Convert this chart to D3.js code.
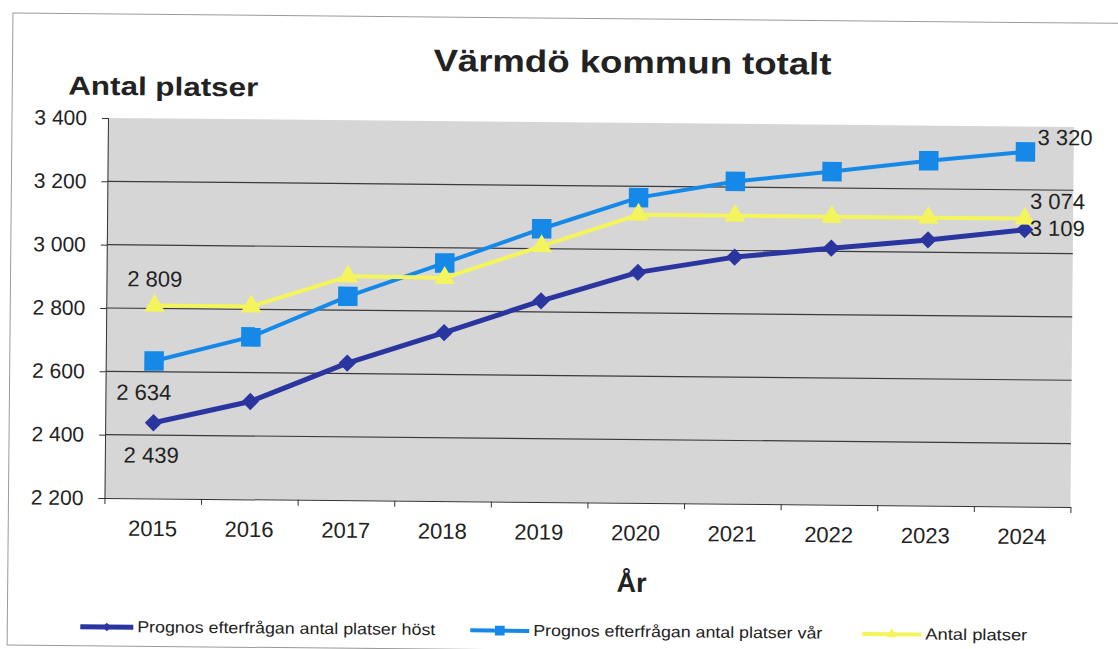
<!DOCTYPE html>
<html>
<head>
<meta charset="utf-8">
<script src="https://cdn.jsdelivr.net/npm/d3@7"></script>
<style>
  html, body { margin: 0; padding: 0; background: #fff; }
  svg { display: block; font-family: "Liberation Sans", Arial, sans-serif; }
</style>
</head>
<body>
<div id="chart"></div>
<script>
const years = [2015, 2016, 2017, 2018, 2019, 2020, 2021, 2022, 2023, 2024]
const host = [2439, 2509, 2633, 2732, 2835, 2928, 2979, 3010, 3039, 3074]
const var_ = [2634, 2713, 2844, 2952, 3063, 3164, 3218, 3252, 3289, 3320]
const antal = [2809, 2809, 2907, 2905, 3008, 3110, 3110, 3109, 3109, 3109]
const yTicks = [2200, 2400, 2600, 2800, 3000, 3200, 3400]

const seriesNames = [
  'Prognos efterfrågan antal platser höst',
  'Prognos efterfrågan antal platser vår',
  'Antal platser'
]

// which points carry a data label
const labelled = [
  { s: 2, i: 0 }, { s: 1, i: 0 }, { s: 0, i: 0 },
  { s: 1, i: 9 }, { s: 0, i: 9 }, { s: 2, i: 9 }
]

const width = 1118
const height = 649
const fmt = v => d3.format(',')(v).replace(/,/g, ' ')

const svg = d3.select('#chart').append('svg')
  .attr('width', width)
  .attr('height', height)

// the original is a slightly skewed scan
const root = svg.append('g').attr('transform', 'rotate(0.53, 109, 118)')

root.append('rect')
  .attr('x', 12).attr('y', 14)
  .attr('width', 1130).attr('height', 632)
  .attr('fill', 'none')
  .attr('stroke', '#9a9a9a')

const plot = { left: 108, right: 1074, top: 118, bottom: 498 }

const x = d3.scaleBand().domain(years).range([plot.left, plot.right])
const y = d3.scaleLinear().domain([2200, 3400]).range([plot.bottom, plot.top])
const cx = d => x(d) + x.bandwidth() / 2

root.append('rect')
  .attr('x', plot.left).attr('y', plot.top)
  .attr('width', plot.right - plot.left).attr('height', plot.bottom - plot.top)
  .attr('fill', '#d6d6d6')

root.append('g')
  .selectAll('line')
  .data(yTicks.filter(t => t > 2200 && t < 3400))
  .join('line')
  .attr('x1', plot.left).attr('x2', plot.right)
  .attr('y1', d => y(d)).attr('y2', d => y(d))
  .attr('stroke', '#3a3a3a')
  .attr('stroke-width', 1.2)

const yAxis = root.append('g')
  .attr('transform', `translate(${plot.left},0)`)
  .call(d3.axisLeft(y).tickValues(yTicks).tickFormat(fmt).tickSize(6).tickPadding(15))
yAxis.selectAll('text').attr('font-size', 21).attr('fill', '#222').attr('font-family', '"Liberation Sans", Arial, sans-serif')
yAxis.selectAll('path, line').attr('stroke', '#333')

// x axis: labels under the categories, ticks between them
const xAxis = root.append('g')
  .attr('transform', `translate(0,${plot.bottom})`)
  .call(d3.axisBottom(x).tickSize(0).tickPadding(22))
xAxis.selectAll('text').attr('font-size', 22).attr('fill', '#222').attr('font-family', '"Liberation Sans", Arial, sans-serif')
xAxis.select('.domain').attr('stroke', '#333')

const bounds = d3.scaleLinear().domain([0, years.length]).range([plot.left, plot.right])
root.append('g')
  .attr('transform', `translate(0,${plot.bottom})`)
  .call(d3.axisBottom(bounds).ticks(years.length).tickSize(6).tickFormat(''))
  .call(g => g.select('.domain').remove())
  .selectAll('line').attr('stroke', '#333')

const series = [
  { values: host, color: '#2a35a0', width: 5, symbol: 'diamond' },
  { values: var_, color: '#1689e8', width: 4, symbol: 'square' },
  { values: antal, color: '#f4f45c', width: 4, symbol: 'triangle' }
]

const line = d3.line().x((d, i) => cx(years[i])).y(d => y(d))

function marker(sel, s, scale = 1) {
  if (s.symbol === 'square') {
    sel.append('path').attr('d', d3.symbol(d3.symbolSquare, 380 * scale * scale)())
  } else if (s.symbol === 'diamond') {
    sel.append('path').attr('d', d3.symbol(d3.symbolSquare, 150 * scale * scale)()).attr('transform', 'rotate(45)')
  } else {
    sel.append('path').attr('d', d3.symbol(d3.symbolTriangle, 185 * scale * scale)())
  }
  sel.selectAll('path').attr('fill', s.color)
}

series.forEach(s => {
  root.append('path')
    .datum(s.values)
    .attr('d', line)
    .attr('fill', 'none')
    .attr('stroke', s.color)
    .attr('stroke-width', s.width)
    .attr('stroke-linejoin', 'round')

  root.append('g')
    .selectAll('g')
    .data(s.values)
    .join('g')
    .attr('transform', (d, i) => `translate(${cx(years[i])},${y(d)})`)
    .each(function() { marker(d3.select(this), s) })
})

// data label placement, as in the original
const labelPos = {
  '2-0': { dx: 0, dy: -19, anchor: 'middle' },
  '1-0': { dx: -10, dy: 39, anchor: 'middle' },
  '0-0': { dx: -2, dy: 40, anchor: 'middle' },
  '1-9': { dx: 12, dy: -7, anchor: 'start' },
  '0-9': { dx: 5, dy: -21, anchor: 'start' },
  '2-9': { dx: 5, dy: 17, anchor: 'start' }
}

root.append('g')
  .selectAll('text')
  .data(labelled)
  .join('text')
  .each(function(d) {
    const p = labelPos[`${d.s}-${d.i}`]
    const v = series[d.s].values[d.i]
    d3.select(this)
      .attr('x', cx(years[d.i]) + p.dx)
      .attr('y', y(v) + p.dy)
      .attr('text-anchor', p.anchor)
      .text(fmt(v))
  })
  .attr('font-size', 22)
  .attr('fill', '#222')

root.append('text')
  .attr('x', 632).attr('y', 68)
  .attr('text-anchor', 'middle')
  .attr('font-size', 31).attr('font-weight', 'bold')
  .attr('textLength', 398).attr('lengthAdjust', 'spacingAndGlyphs')
  .attr('fill', '#222')
  .text('Värmdö kommun totalt')

root.append('text')
  .attr('x', 68).attr('y', 95)
  .attr('font-size', 26).attr('font-weight', 'bold')
  .attr('textLength', 190).attr('lengthAdjust', 'spacingAndGlyphs')
  .attr('fill', '#222')
  .text('Antal platser')

root.append('text')
  .attr('x', 636).attr('y', 587)
  .attr('text-anchor', 'middle')
  .attr('font-size', 27).attr('font-weight', 'bold')
  .attr('fill', '#222')
  .text('År')

// legend
const legendItems = [
  { lx: 85, tx: 142, tw: 298 },
  { lx: 475, tx: 538, tw: 289 },
  { lx: 867, tx: 930, tw: 102 }
]
const legend = root.append('g')
  .selectAll('g')
  .data(legendItems)
  .join('g')
  .attr('transform', d => `translate(${d.lx},627)`)

legend.append('line')
  .attr('x1', 0).attr('x2', d => d.tx - d.lx - 4)
  .attr('stroke', (d, i) => series[i].color)
  .attr('stroke-width', (d, i) => series[i].width)

legend.append('g')
  .attr('transform', d => `translate(${(d.tx - d.lx - 4) / 2},0)`)
  .each(function(d, i) { marker(d3.select(this), series[i], 0.5) })

legend.append('text')
  .attr('x', d => d.tx - d.lx)
  .attr('y', 5)
  .attr('font-size', 16)
  .attr('textLength', d => d.tw)
  .attr('lengthAdjust', 'spacingAndGlyphs')
  .attr('fill', '#222')
  .text((d, i) => seriesNames[i])
</script>
</body>
</html>
